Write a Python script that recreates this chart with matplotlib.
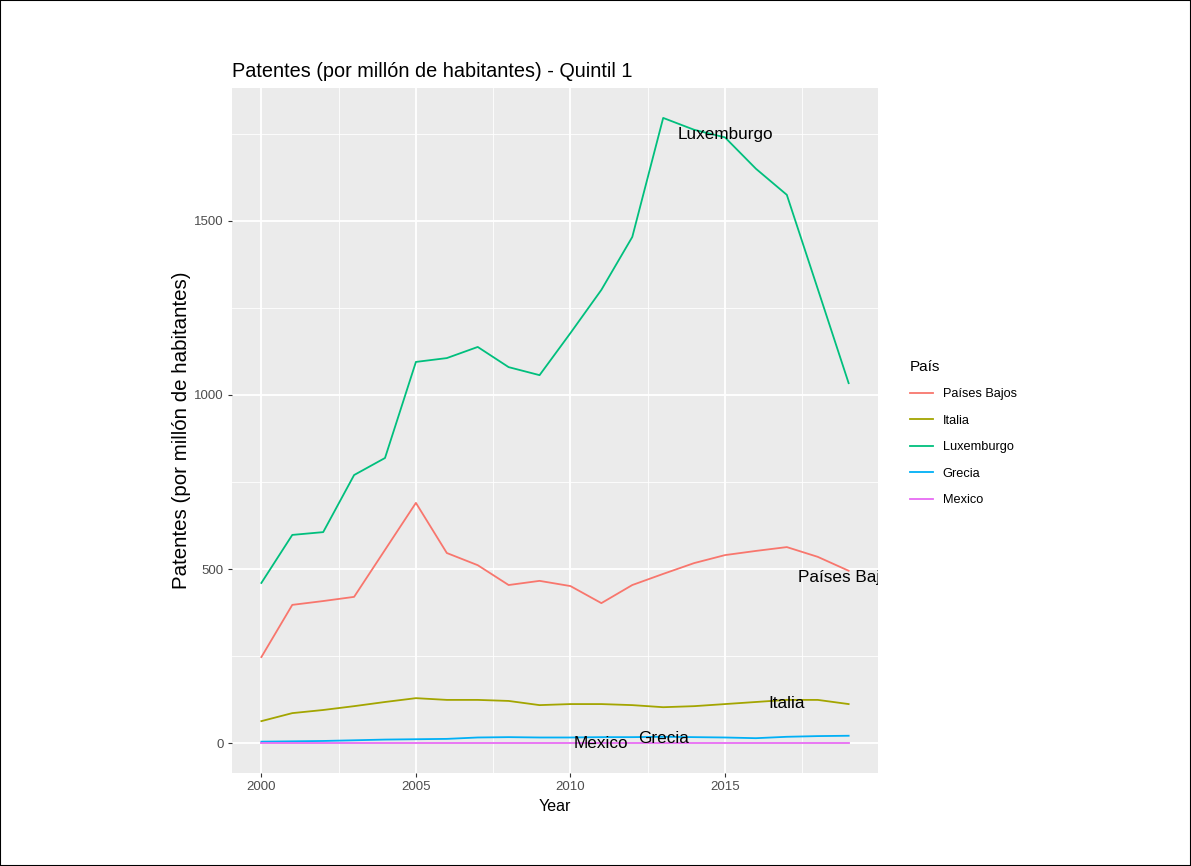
import matplotlib
matplotlib.use("Agg")
import matplotlib.pyplot as plt
from matplotlib.lines import Line2D
from matplotlib.patches import Rectangle
import numpy as np

plt.rcParams['font.family'] = ['Liberation Sans', 'DejaVu Sans']

years = list(range(2000, 2020))

paises_bajos = [247, 397, 408, 420, 555, 690, 546, 511, 454, 466,
                451, 402, 454, 486, 517, 540, 552, 563, 535, 495]
italia = [63, 86, 95, 106, 118, 129, 124, 124, 121, 109,
          112, 112, 109, 103, 106, 112, 118, 124, 124, 112]
luxemburgo = [460, 598, 606, 770, 819, 1095, 1106, 1138, 1080, 1057,
              1178, 1302, 1454, 1796, 1762, 1740, 1650, 1575, 1305, 1034]
grecia = [4, 5, 6, 8, 10, 11, 12, 16, 17, 16,
          16, 17, 17, 18, 17, 16, 14, 18, 20, 21]
mexico = [1, 1, 1, 1, 1, 1, 1, 1, 1, 1,
          1, 1, 1, 1, 1, 1, 1, 1, 1, 1]

countries = ['Países Bajos', 'Italia', 'Luxemburgo', 'Grecia', 'Mexico']
series = [paises_bajos, italia, luxemburgo, grecia, mexico]
colors = ['#F8766D', '#A3A500', '#00BF7D', '#00B0F6', '#E76BF3']

# where geom_text put each country name
label_years = [2019, 2017, 2015, 2013, 2011]
label_vals = [477, 115, 1747, 12, 0]

fig = plt.figure(figsize=(11.91, 8.66), dpi=100)
fig.patch.set_facecolor('white')
ax = fig.add_axes([0.1948, 0.1074, 0.5424, 0.7910])
ax.set_facecolor('#EBEBEB')

for vals, c in zip(series, colors):
    ax.plot(years, vals, color=c, lw=1.3, zorder=3)

for name, yr, v in zip(countries, label_years, label_vals):
    ax.text(yr, v, name, ha='center', va='center', fontsize=12.3,
            color='black', zorder=4, clip_on=True)

ax.set_xlim(1999.05, 2019.95)
ax.set_ylim(-86, 1882)
ax.set_xticks([2000, 2005, 2010, 2015])
ax.set_yticks([0, 500, 1000, 1500])
ax.set_xticks([2002.5, 2007.5, 2012.5, 2017.5], minor=True)
ax.set_yticks([250, 750, 1250, 1750], minor=True)
ax.grid(which='major', color='white', lw=1.3, zorder=1)
ax.grid(which='minor', color='white', lw=0.6, zorder=1)
ax.set_axisbelow(True)
for s in ax.spines.values():
    s.set_visible(False)
ax.tick_params(which='major', length=3, color='#333333', labelsize=9.5,
               labelcolor='#4D4D4D', pad=3)
ax.tick_params(which='minor', length=0)

ax.set_xlabel('Year', fontsize=11.5, labelpad=4)
ax.set_ylabel('Patentes (por millón de habitantes)', fontsize=14.8, labelpad=2)
ax.set_title('Patentes (por millón de habitantes) - Quintil 1', loc='left',
             fontsize=14.3, pad=8)

handles = [Line2D([], [], color=c, lw=1.3) for c in colors]
leg = fig.legend(handles, countries, title='País', loc='upper left',
                 bbox_to_anchor=(0.754, 0.598), frameon=False, fontsize=9.2,
                 title_fontsize=11, handlelength=1.8, labelspacing=1.14,
                 handletextpad=0.8)
leg._legend_box.align = 'left'

fig.patches.append(Rectangle((0, 0), 1, 1, transform=fig.transFigure,
                             fill=False, edgecolor='black', lw=1.5))

fig.savefig('out.png', dpi=100)
